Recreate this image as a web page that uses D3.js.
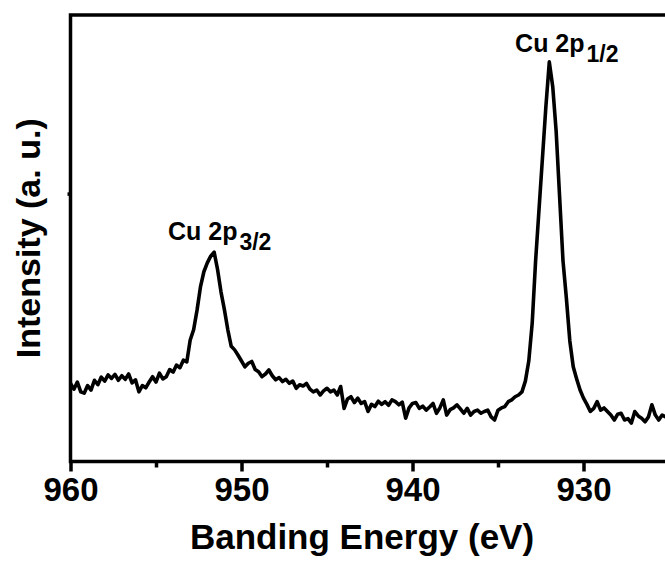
<!DOCTYPE html>
<html>
<head>
<meta charset="utf-8">
<script src="https://cdnjs.cloudflare.com/ajax/libs/d3/7.8.5/d3.min.js"></script>
<style>
    body { margin: 0; background: #fff; overflow: hidden; }
    text { font-family: "Liberation Sans", Arial, sans-serif; font-weight: bold; fill: #000; }
</style>
</head>
<body>
<div id="chart"></div>
<script>
// binding energy grid (eV), 0.2 eV step
const energy = [
    960.0, 959.8, 959.6, 959.4, 959.2, 959.0, 958.8, 958.6, 958.4, 958.2,
    958.0, 957.8, 957.6, 957.4, 957.2, 957.0, 956.8, 956.6, 956.4, 956.2,
    956.0, 955.8, 955.6, 955.4, 955.2, 955.0, 954.8, 954.6, 954.4, 954.2,
    954.0, 953.8, 953.6, 953.4, 953.2, 953.0, 952.8, 952.6, 952.4, 952.2,
    952.0, 951.8, 951.6, 951.4, 951.2, 951.0, 950.8, 950.6, 950.4, 950.2,
    950.0, 949.8, 949.6, 949.4, 949.2, 949.0, 948.8, 948.6, 948.4, 948.2,
    948.0, 947.8, 947.6, 947.4, 947.2, 947.0, 946.8, 946.6, 946.4, 946.2,
    946.0, 945.8, 945.6, 945.4, 945.2, 945.0, 944.8, 944.6, 944.4, 944.2,
    944.0, 943.8, 943.6, 943.4, 943.2, 943.0, 942.8, 942.6, 942.4, 942.2,
    942.0, 941.8, 941.6, 941.4, 941.2, 941.0, 940.8, 940.6, 940.4, 940.2,
    940.0, 939.8, 939.6, 939.4, 939.2, 939.0, 938.8, 938.6, 938.4, 938.2,
    938.0, 937.8, 937.6, 937.4, 937.2, 937.0, 936.8, 936.6, 936.4, 936.2,
    936.0, 935.8, 935.6, 935.4, 935.2, 935.0, 934.8, 934.6, 934.4, 934.2,
    934.0, 933.8, 933.6, 933.4, 933.2, 933.0, 932.8, 932.6, 932.4, 932.2,
    932.0, 931.8, 931.6, 931.4, 931.2, 931.0, 930.8, 930.6, 930.4, 930.2,
    930.0, 929.8, 929.6, 929.4, 929.2, 929.0, 928.8, 928.6, 928.4, 928.2,
    928.0, 927.8, 927.6, 927.4, 927.2, 927.0, 926.8, 926.6, 926.4, 926.2,
    926.0, 925.8, 925.6, 925.4, 925.2, 925.0
];

// intensity (a. u.)
const intensity = [
    17.5, 16.2, 17.8, 15.6, 15.3, 17.0, 16.0, 18.2, 17.2, 18.9,
    18.0, 19.4, 18.6, 19.5, 18.2, 19.2, 18.4, 19.6, 17.6, 18.3,
    15.6, 17.0, 16.5, 17.8, 19.0, 17.8, 19.8, 18.5, 19.0, 20.6,
    20.0, 21.6, 21.0, 22.7, 22.3, 27.2, 29.5, 33.9, 39.1, 42.5,
    44.5, 46.0, 46.9, 43.0, 38.0, 34.0, 29.5, 25.8, 25.0, 23.8,
    22.5, 21.2, 22.0, 22.4, 20.6, 20.1, 19.0, 19.6, 20.5, 19.2,
    18.3, 18.8, 17.9, 18.4, 17.5, 18.0, 16.4, 17.2, 16.9, 17.5,
    16.2, 15.6, 16.0, 14.9, 15.8, 16.4, 15.6, 16.0, 14.9, 16.8,
    11.9, 14.0, 14.5, 13.2, 14.2, 13.0, 13.4, 11.2, 12.8, 12.3,
    13.5, 12.8, 13.4, 12.6, 13.8, 13.4, 12.7, 13.3, 9.7, 12.0,
    13.0, 13.2, 11.9, 12.4, 11.5, 12.2, 13.0, 10.8, 12.0, 13.8,
    10.4, 11.6, 12.0, 12.7, 11.8, 10.8, 11.9, 10.4, 11.2, 11.5,
    10.8, 11.2, 11.5, 10.0, 9.3, 11.5, 12.0, 12.3, 13.4, 13.8,
    14.5, 14.9, 15.6, 18.0, 22.5, 31.0, 45.0, 56.5, 68.0, 79.5,
    89.5, 84.0, 74.0, 59.5, 45.0, 36.5, 27.0, 21.2, 18.5, 16.0,
    14.2, 12.8, 11.2, 11.9, 13.4, 11.5, 12.0, 11.2, 10.4, 9.3,
    10.6, 10.8, 9.3, 9.6, 8.6, 11.2, 10.2, 9.7, 8.9, 10.0,
    12.7, 10.4, 9.3, 10.4, 10.0, 10.6
];

const majorTicks = [960, 950, 940, 930];
const minorTicks = [955, 945, 935];

// peak labels, anchored in data units
const peakLabels = [
    {main: "Cu 2p", sub: "3/2", e: 954.3, v: 49.6},
    {main: "Cu 2p", sub: "1/2", e: 934.0, v: 91.8}
];

const margin = {top: 15, right: -4, bottom: 99.5, left: 70.5};
const W = 665, H = 561;
const width = W - margin.left - margin.right,
    height = H - margin.top - margin.bottom;

const svg = d3.select("#chart").append("svg")
    .attr("width", W)
    .attr("height", H);

const g = svg.append("g")
    .attr("transform", "translate(" + margin.left + "," + margin.top + ")");

const x = d3.scaleLinear().domain([960, 925]).range([0, width]);
const y = d3.scaleLinear().domain([0, 100]).range([height, 0]);

g.append("clipPath").attr("id", "plotClip")
    .append("rect")
    .attr("width", width)
    .attr("height", height);

// spectrum
const data = energy.map((e, i) => ({e: e, v: intensity[i]}));
const line = d3.line()
    .x(d => x(d.e))
    .y(d => y(d.v));

g.append("path")
    .datum(data)
    .attr("clip-path", "url(#plotClip)")
    .attr("d", line)
    .attr("fill", "none")
    .attr("stroke", "#000")
    .attr("stroke-width", 3.6)
    .attr("stroke-linejoin", "round");

// x axis, major + minor ticks
const xAxis = g.append("g")
    .attr("transform", "translate(0," + height + ")")
    .call(d3.axisBottom(x).tickValues(majorTicks).tickSize(10).tickSizeOuter(0).tickPadding(6).tickFormat(d3.format("d")));

g.append("g")
    .attr("transform", "translate(0," + height + ")")
    .call(d3.axisBottom(x).tickValues(minorTicks).tickSize(6).tickSizeOuter(0).tickFormat(""));

xAxis.selectAll("text")
    .attr("font-family", null)
    .style("font-size", "33px");

// y axis has one unlabelled tick
g.append("g")
    .call(d3.axisLeft(y).tickValues([60]).tickSize(3).tickSizeOuter(0).tickFormat(""));

g.selectAll(".tick line").attr("stroke-width", 3.5);
g.selectAll(".domain").remove();

// frame
g.append("rect")
    .attr("width", width)
    .attr("height", height)
    .attr("fill", "none")
    .attr("stroke", "#000")
    .attr("stroke-width", 3.5);

// peak labels
const lab = g.selectAll(".peak")
    .data(peakLabels)
    .enter()
    .append("text")
    .attr("class", "peak")
    .attr("x", d => x(d.e))
    .attr("y", d => y(d.v))
    .style("font-size", "25px");

lab.append("tspan").text(d => d.main);
lab.append("tspan")
    .attr("dx", 2)
    .attr("dy", 10)
    .style("font-size", "23px")
    .text(d => d.sub);

// axis titles
svg.append("text")
    .attr("x", 362)
    .attr("y", 549)
    .attr("text-anchor", "middle")
    .style("font-size", "35px")
    .text("Banding Energy (eV)");

svg.append("text")
    .attr("transform", "translate(40," + (margin.top + height / 2) + ") rotate(-90)")
    .attr("text-anchor", "middle")
    .style("font-size", "34px")
    .text("Intensity (a. u.)");
</script>
</body>
</html>
